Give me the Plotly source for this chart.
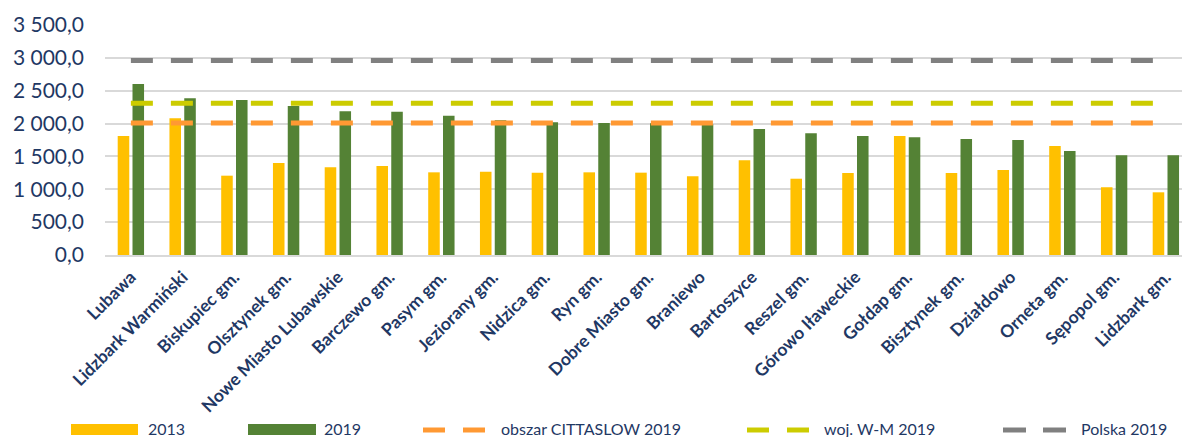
import plotly.graph_objects as go

categories = ["Lubawa", "Lidzbark Warmiński", "Biskupiec gm.", "Olsztynek gm.",
              "Nowe Miasto Lubawskie", "Barczewo gm.", "Pasym gm.", "Jeziorany gm.",
              "Nidzica gm.", "Ryn gm.", "Dobre Miasto gm.", "Braniewo", "Bartoszyce",
              "Reszel gm.", "Górowo Iławeckie", "Gołdap gm.", "Bisztynek gm.",
              "Działdowo", "Orneta gm.", "Sępopol gm.", "Lidzbark gm."]
values_2013 = [1811, 2080, 1207, 1400, 1334, 1354, 1258, 1268, 1253, 1258, 1253,
               1197, 1441, 1161, 1248, 1811, 1248, 1294, 1659, 1030, 954]
values_2019 = [2602, 2384, 2359, 2268, 2187, 2178, 2120, 2049, 2019, 2009, 2004,
               1989, 1917, 1852, 1811, 1791, 1765, 1750, 1583, 1517, 1517]
cittaslow_2019 = 2010
woj_wm_2019 = 2310
polska_2019 = 2960

NAVY = "#1F3864"
C2013 = "#FFC000"
C2019 = "#548235"
C_CITTA = "#FF9933"
C_WOJ = "#CCCC00"
C_PL = "#808080"
FONT = "Lato"

W, H = 1182, 437
L, R, T, B = 105, 0, 25, 182
PW, PH = W - L - R, H - T - B
CAT_PX = 51.75

fig = go.Figure()
fig.add_trace(go.Bar(x=categories, y=values_2013, name="2013", marker_color=C2013,
                     marker_line_width=0))
fig.add_trace(go.Bar(x=categories, y=values_2019, name="2019", marker_color=C2019,
                     marker_line_width=0))
for name, val, col in [("obszar CITTASLOW 2019", cittaslow_2019, C_CITTA),
                       ("woj. W-M 2019", woj_wm_2019, C_WOJ),
                       ("Polska 2019", polska_2019, C_PL)]:
    fig.add_trace(go.Scatter(x=categories, y=[val] * len(categories), name=name,
                             mode="lines", line=dict(color=col, width=5, dash="22px,18px")))


def px_x(px):
    return (px - L) / PW


def px_y(py):
    return (H - B - py) / PH


shapes = []
annotations = []
LEG_Y = 428.5
for x0, x1, col, tx, label in [(71, 138, C2013, 147, "2013"), (248, 316, C2019, 323, "2019")]:
    shapes.append(dict(type="rect", xref="paper", yref="paper",
                       x0=px_x(x0), x1=px_x(x1), y0=px_y(435), y1=px_y(424),
                       fillcolor=col, line_width=0))
    annotations.append(dict(xref="paper", yref="paper", x=px_x(tx), y=px_y(LEG_Y),
                            text=label, showarrow=False, xanchor="left", yanchor="middle",
                            height=17, borderpad=0,
                            font=dict(family=FONT, size=16, color=NAVY)))
for segs, col, tx, label in [([(423, 445), (463, 485)], C_CITTA, 500, "obszar CITTASLOW 2019"),
                             ([(747, 769), (787, 809)], C_WOJ, 823, "woj. W-M 2019"),
                             ([(1003, 1026), (1043, 1066)], C_PL, 1080, "Polska 2019")]:
    for a, b in segs:
        shapes.append(dict(type="line", xref="paper", yref="paper",
                           x0=px_x(a), x1=px_x(b), y0=px_y(430), y1=px_y(430),
                           line=dict(color=col, width=5)))
    annotations.append(dict(xref="paper", yref="paper", x=px_x(tx), y=px_y(LEG_Y),
                            text=label, showarrow=False, xanchor="left", yanchor="middle",
                            height=17, borderpad=0,
                            font=dict(family=FONT, size=16, color=NAVY)))

fig.update_layout(
    width=W, height=H,
    margin=dict(l=L, r=R, t=T, b=B, pad=0),
    paper_bgcolor="white", plot_bgcolor="white",
    barmode="group", bargap=0.428, bargroupgap=0.22,
    showlegend=False,
    separators=", ",
    font=dict(family=FONT, color=NAVY),
    shapes=shapes, annotations=annotations,
    xaxis=dict(range=[-0.5, -0.5 + PW / CAT_PX], tickangle=-45, showgrid=False,
               showline=True, linecolor="#D9D9D9", linewidth=2, ticks="",
               ticklabelstandoff=3,
               tickfont=dict(family=FONT, size=17.5, color=NAVY, weight="bold")),
    yaxis=dict(range=[0, 3500], dtick=500, tickformat=",.1f", showgrid=True,
               gridcolor="#D9D9D9", gridwidth=1.5, zeroline=False, showline=False,
               ticks="", ticklabelstandoff=20,
               tickfont=dict(family=FONT, size=21, color=NAVY)),
)

fig.write_html("out.html", config={"displayModeBar": False},
               post_script="document.body.style.margin='0';document.body.style.overflow='hidden';")
